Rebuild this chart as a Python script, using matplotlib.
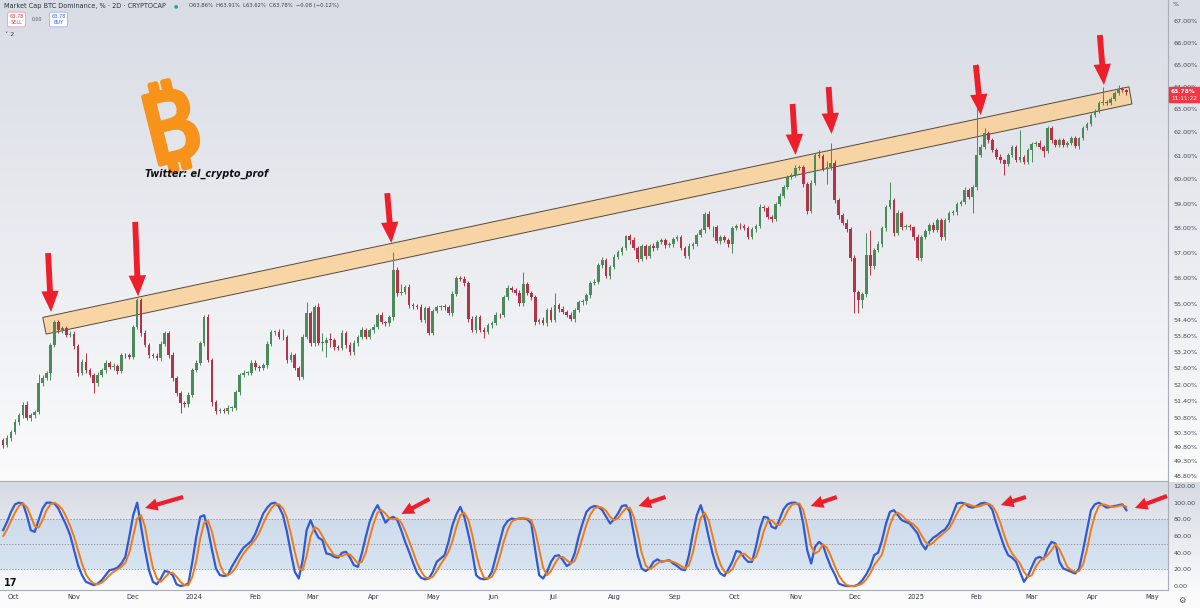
import numpy as np
import matplotlib
matplotlib.use("Agg")
import matplotlib.pyplot as plt
import matplotlib.dates as mdates
import matplotlib.patheffects as pe
from matplotlib.patches import Polygon, FancyArrowPatch, Rectangle
from matplotlib.ticker import NullLocator

# ---------------- data ----------------
start_date = "2023-09-26"
step_days = 2
first_open = 50.04

closes = [
    49.86, 50.11, 50.32, 50.67, 50.91, 51.27, 50.81, 50.91, 51.02, 52.06,
    52.24, 52.43, 53.46, 54.32, 54.02, 54.10, 53.84, 53.87, 53.43, 52.43,
    52.83, 52.54, 52.35, 52.06, 52.35, 52.54, 52.80, 52.65, 52.69, 52.50,
    53.09, 53.08, 53.02, 54.14, 55.16, 53.91, 53.46, 53.09, 53.05, 52.98,
    53.50, 53.91, 53.09, 52.24, 51.70, 51.34, 51.30, 51.63, 52.54, 52.80,
    53.54, 54.51, 52.91, 51.37, 51.06, 51.09, 51.05, 51.16, 51.17, 51.73,
    52.35, 52.43, 52.44, 52.80, 52.65, 52.61, 52.72, 53.50, 53.95, 53.96,
    53.76, 53.75, 52.91, 53.09, 52.61, 52.28, 53.76, 54.66, 53.54, 54.89,
    53.54, 53.55, 53.65, 53.64, 53.39, 53.35, 53.91, 53.46, 53.20, 53.54,
    53.76, 54.02, 53.76, 54.02, 54.14, 54.59, 54.32, 54.29, 54.51, 56.33,
    55.43, 55.47, 55.67, 54.97, 54.93, 54.89, 54.40, 54.85, 53.91, 54.74,
    54.89, 54.92, 54.88, 54.66, 55.39, 56.02, 55.98, 55.82, 54.44, 54.02,
    54.51, 54.03, 53.95, 54.21, 54.29, 54.59, 54.58, 55.28, 55.63, 55.55,
    55.43, 55.04, 55.78, 55.43, 55.28, 54.32, 54.40, 54.29, 54.78, 54.40,
    54.97, 54.82, 54.70, 54.59, 54.44, 54.78, 55.08, 55.12, 55.35, 55.82,
    55.86, 56.52, 56.72, 56.09, 56.45, 56.84, 57.04, 57.20, 57.68, 57.52,
    57.20, 56.76, 57.28, 56.88, 57.28, 57.20, 57.44, 57.52, 57.32, 57.36,
    57.56, 57.64, 57.20, 56.88, 57.28, 57.36, 57.72, 57.92, 58.57, 58.04,
    58.03, 57.48, 57.64, 57.52, 57.36, 58.00, 58.08, 58.07, 58.00, 57.64,
    57.96, 58.08, 58.85, 58.81, 58.44, 58.36, 58.98, 59.31, 59.68, 60.10,
    60.18, 60.48, 60.52, 59.81, 58.69, 59.85, 61.03, 60.99, 60.43, 60.52,
    60.69, 59.14, 58.53, 58.20, 57.96, 56.80, 55.47, 55.16, 55.39, 56.92,
    56.48, 57.12, 57.36, 58.00, 58.85, 59.14, 57.80, 58.61, 58.04, 58.07,
    58.03, 57.64, 56.80, 57.64, 57.88, 58.12, 57.92, 58.32, 57.64, 58.32,
    58.61, 58.65, 58.98, 59.06, 59.56, 59.27, 59.68, 61.03, 61.37, 61.96,
    61.66, 61.24, 60.94, 60.81, 60.64, 61.03, 61.37, 60.82, 60.94, 60.73,
    61.24, 61.49, 61.54, 61.37, 61.20, 62.19, 61.66, 61.45, 61.67, 61.45,
    61.53, 61.75, 61.41, 61.74, 62.19, 62.36, 62.75, 62.93, 63.28, 63.33,
    63.29, 63.46, 63.72, 63.90, 63.86, 63.78,
]

upper_wick = [
    .08, .10, .07, .12, .09, .10, .15, .08, .06, .35,
    .10, .08, .07, .08, .10, .06, .09, .12, .10, .08,
    .10, .33, .07, .09, .12, .06, .10, .08, .11, .07,
    .09, .06, .10, .08, .07, .09, .12, .08, .06, .10,
    .11, .09, .08, .10, .07, .06, .09, .12, .08, .10,
    .09, .07, .12, .08, .10, .06, .09, .11, .07, .10,
    .08, .12, .06, .09, .10, .07, .08, .11, .09, .06,
    .10, .30, .08, .10, .07, .09, .12, .42, .10, .08,
    .15, .35, .10, .25, .08, .09, .11, .07, .10, .12,
    .08, .10, .07, .09, .11, .08, .10, .06, .09, .70,
    .12, .30, .08, .10, .07, .09, .11, .08, .10, .07,
    .09, .06, .10, .08, .12, .09, .07, .10, .08, .11,
    .09, .07, .10, .08, .06, .11, .09, .08, .10, .07,
    .09, .12, .47, .08, .10, .07, .09, .11, .08, .10,
    .45, .08, .10, .07, .12, .09, .08, .10, .07, .09,
    .10, .08, .12, .07, .09, .11, .08, .10, .06, .09,
    .12, .08, .10, .07, .09, .11, .08, .10, .07, .09,
    .08, .10, .07, .09, .11, .08, .10, .07, .09, .12,
    .05, .10, .08, .09, .07, .10, .08, .12, .09, .07,
    .10, .08, .12, .09, .07, .10, .08, .11, .09, .10,
    .08, .12, .09, .10, .07, .11, .08, .20, .09, .25,
    .85, .12, .10, .08, .15, .10, .12, .09, .10, .90,
    1.00, .10, .12, .10, .08, .75, .10, .12, .09, .08,
    .10, .07, .12, .09, .08, .10, .11, .09, .08, .10,
    .09, .07, .10, .08, .12, .09, .10, 4.00, .12, .25,
    .10, .08, .09, .12, .07, .10, .08, .09, 1.15, .10,
    .08, .09, .10, .12, .08, .10, .09, .07, .10, .08,
    .09, .08, .10, .07, .09, .10, .08, .09, .10, .65,
    .08, .10, .09, .18, .07, .05,
]

lower_wick = [
    .10, .08, .12, .07, .09, .10, .08, .12, .09, .07,
    .10, .08, .25, .07, .09, .10, .08, .06, .12, .10,
    .08, .10, .07, .35, .09, .08, .12, .07, .10, .09,
    .07, .10, .08, .09, .06, .12, .08, .10, .07, .09,
    .10, .08, .12, .09, .10, .35, .08, .10, .07, .09,
    .08, .10, .09, .12, .10, .08, .07, .10, .09, .08,
    .10, .07, .09, .08, .12, .10, .07, .09, .08, .10,
    .08, .10, .12, .09, .07, .10, .08, .09, .12, .10,
    .09, .30, .55, .25, .10, .08, .07, .12, .09, .10,
    .10, .08, .09, .07, .10, .09, .08, .12, .10, .09,
    .10, .09, .08, .12, .10, .07, .09, .10, .08, .09,
    .08, .10, .09, .07, .10, .08, .09, .10, .12, .08,
    .10, .09, .22, .08, .10, .07, .09, .08, .10, .09,
    .08, .10, .09, .07, .10, .12, .08, .09, .10, .07,
    .09, .10, .08, .09, .07, .10, .08, .12, .09, .10,
    .08, .09, .10, .07, .12, .09, .08, .10, .09, .15,
    .09, .10, .08, .12, .07, .10, .09, .08, .10, .09,
    .10, .08, .09, .07, .10, .12, .08, .09, .10, .08,
    .40, .09, .10, .08, .12, .35, .09, .10, .08, .07,
    .09, .10, .08, .12, .09, .10, .07, .09, .10, .08,
    .10, .09, .08, .12, .10, .07, .09, .10, .08, .60,
    .12, .10, .15, .09, .12, .10, .80, .50, .30, .10,
    .35, .10, .09, .10, .12, .08, .10, .09, .12, .08,
    .09, .10, .08, .12, .09, .10, .08, .09, .10, .12,
    .08, .09, .10, .07, .09, .10, .65, .10, .08, .09,
    .10, .08, .09, .12, .45, .09, .10, .08, .09, .10,
    .08, .50, .09, .10, .25, .09, .10, .08, .09, .10,
    .08, .09, .10, .12, .08, .09, .10, .07, .09, .08,
    .10, .09, .08, .07, .09, .16,
]

stoch_k = [
    67, 77, 89, 98, 100, 99, 85, 67, 65, 79,
    93, 100, 100, 99, 93, 83, 73, 61, 43, 25,
    13, 5, 3, 1, 3, 7, 13, 19, 20, 22,
    27, 35, 59, 85, 100, 71, 43, 19, 5, 2,
    9, 18, 17, 13, 2, 0, 1, 3, 29, 59,
    83, 85, 67, 43, 21, 13, 12, 13, 23, 31,
    39, 46, 50, 54, 63, 75, 87, 94, 99, 100,
    95, 85, 65, 40, 17, 9, 31, 67, 79, 67,
    58, 55, 39, 38, 35, 34, 40, 41, 34, 25,
    23, 39, 59, 77, 89, 97, 87, 76, 81, 83,
    79, 67, 53, 41, 28, 16, 10, 8, 9, 17,
    29, 33, 37, 53, 73, 86, 95, 83, 63, 41,
    13, 9, 8, 9, 17, 35, 53, 71, 78, 81,
    80, 81, 81, 80, 75, 43, 13, 9, 17, 29,
    36, 37, 31, 24, 27, 39, 59, 75, 89, 94,
    96, 95, 91, 83, 75, 80, 87, 96, 97, 89,
    63, 37, 21, 18, 21, 29, 32, 29, 30, 31,
    27, 24, 20, 19, 37, 63, 85, 97, 81, 59,
    39, 23, 15, 12, 20, 29, 42, 41, 34, 29,
    29, 47, 69, 83, 82, 71, 69, 80, 92, 98,
    100, 100, 97, 75, 43, 27, 47, 53, 49, 35,
    23, 14, 3, 1, 0, 0, 0, 2, 7, 14,
    23, 37, 40, 55, 75, 89, 91, 85, 79, 77,
    75, 69, 63, 51, 44, 53, 58, 61, 65, 68,
    75, 87, 99, 100, 99, 95, 94, 96, 99, 100,
    98, 91, 75, 61, 47, 37, 34, 29, 17, 5,
    12, 23, 33, 35, 32, 45, 53, 51, 29, 21,
    19, 17, 15, 21, 43, 67, 91, 98, 100, 97,
    94, 95, 96, 97, 98, 91,
]

stoch_d = [
    60, 68, 78, 88, 96, 99, 95, 84, 72, 70,
    79, 91, 98, 100, 97, 92, 83, 72, 59, 43,
    27, 14, 7, 3, 2, 4, 8, 13, 17, 20,
    23, 28, 40, 60, 81, 85, 71, 44, 22, 9,
    5, 10, 15, 16, 11, 5, 1, 1, 11, 30,
    57, 76, 78, 65, 44, 26, 15, 13, 16, 22,
    31, 39, 45, 50, 56, 64, 75, 85, 93, 98,
    98, 93, 82, 63, 41, 22, 19, 36, 59, 71,
    68, 60, 51, 44, 37, 36, 36, 38, 38, 33,
    27, 29, 40, 58, 75, 88, 91, 87, 81, 80,
    81, 76, 66, 54, 41, 28, 18, 11, 9, 11,
    18, 26, 33, 41, 54, 71, 85, 88, 80, 62,
    39, 21, 10, 9, 11, 20, 35, 53, 67, 77,
    80, 81, 81, 81, 79, 66, 44, 22, 13, 18,
    27, 34, 35, 31, 27, 30, 42, 58, 74, 86,
    93, 95, 94, 90, 83, 79, 81, 88, 93, 94,
    83, 63, 40, 25, 20, 23, 27, 30, 30, 30,
    29, 27, 24, 21, 25, 40, 62, 82, 88, 79,
    60, 40, 26, 17, 16, 20, 30, 37, 39, 35,
    31, 35, 48, 66, 78, 79, 74, 73, 80, 90,
    97, 99, 99, 91, 72, 48, 39, 42, 50, 46,
    36, 24, 13, 6, 1, 0, 0, 1, 3, 8,
    15, 25, 31, 38, 56, 73, 85, 88, 85, 80,
    77, 74, 69, 61, 53, 49, 52, 57, 61, 65,
    69, 77, 87, 95, 99, 98, 96, 95, 96, 98,
    99, 96, 88, 76, 61, 48, 39, 33, 27, 17,
    11, 13, 23, 30, 33, 37, 43, 50, 44, 34,
    23, 19, 17, 18, 26, 44, 67, 85, 96, 98,
    97, 95, 95, 96, 97, 95,
]

# channel band corners: days after 2023-10-01, values (%)
band_ref_date = "2023-10-01"
band_days = [15.1, 566.3, 567.8, 16.8]
band_values = [54.50, 64.00, 63.24, 53.87]

# red arrows in price panel: (tail day, tail value) -> (tip day, tip value)
main_arrow_tail_days = [17.8, 62.0, 189.9, 395.6, 413.9, 488.6, 551.5]
main_arrow_tail_vals = [57.00, 58.25, 59.43, 63.24, 63.99, 64.98, 66.35]
main_arrow_tip_days = [19.3, 63.5, 192.0, 397.1, 415.4, 491.1, 553.6]
main_arrow_tip_vals = [54.71, 55.31, 57.40, 61.03, 61.93, 62.75, 64.08]

# red arrows in oscillator panel
osc_arrow_tail_days = [86.3, 211.3, 331.1, 418.0, 514.0, 585.6]
osc_arrow_tail_vals = [106.8, 104.4, 106.8, 106.8, 106.8, 108.0]
osc_arrow_tip_days = [67.0, 197.1, 317.4, 404.8, 501.3, 569.3]
osc_arrow_tip_vals = [93.6, 86.4, 96.0, 96.0, 97.2, 93.6]

price_ticks = [67, 66, 65, 64, 63, 62, 61, 60, 59, 58, 57, 56, 55,
               54.4, 53.8, 53.2, 52.6, 52.0, 51.4, 50.8, 50.3, 49.8, 49.3, 48.8]
osc_ticks = [120, 100, 80, 60, 40, 20, 0]
month_tick_dates = ["2023-10-01", "2023-11-01", "2023-12-01", "2024-01-01", "2024-02-01",
                    "2024-03-01", "2024-04-01", "2024-05-01", "2024-06-01", "2024-07-01",
                    "2024-08-01", "2024-09-01", "2024-10-01", "2024-11-01", "2024-12-01",
                    "2025-01-01", "2025-02-01", "2025-03-01", "2025-04-01", "2025-05-01"]
month_tick_labels = ["Oct", "Nov", "Dec", "2024", "Feb", "Mar", "Apr", "May", "Jun", "Jul",
                     "Aug", "Sep", "Oct", "Nov", "Dec", "2025", "Feb", "Mar", "Apr", "May"]

# ---------------- style ----------------
GREEN = "#4a8a5b"
RED = "#b43349"
ARROW_RED = "#ee1f2b"
BLUE = "#2f5ad6"
ORANGE = "#f07b16"
AXIS_TXT = "#444a52"

W, H = 1200, 608
fig = plt.figure(figsize=(12, 6.08), dpi=100)
fig.patch.set_facecolor("white")

# background gradient
bg = fig.add_axes([0, 0, 1, 1], zorder=-10)
bg.axis("off")
grad = np.zeros((H, 2, 3))
def fill(r0, r1, c0, c1):
    t = np.linspace(0, 1, r1 - r0)[:, None]
    col = np.array(c0)[None, :] * (1 - t) + np.array(c1)[None, :] * t
    grad[r0:r1, :, :] = (col / 255.0)[:, None, :]
fill(0, 482, (216, 220, 228), (251, 251, 252))
fill(482, 590, (214, 218, 226), (249, 250, 251))
fill(590, 608, (250, 250, 251), (250, 250, 251))
bg.imshow(grad, aspect="auto", extent=[0, 1, 0, 1], origin="upper")

right_px = 1168
main_bottom_px = 481
osc_top_px = 482
osc_bottom_px = 590
ax = fig.add_axes([0, 1 - main_bottom_px / H, right_px / W, main_bottom_px / H])
ax2 = fig.add_axes([0, 1 - osc_bottom_px / H, right_px / W, (osc_bottom_px - osc_top_px) / H])
for a in (ax, ax2):
    a.set_facecolor("none")

# x positions
d0 = mdates.datestr2num(start_date)
n = min(len(closes), len(upper_wick), len(lower_wick), len(stoch_k), len(stoch_d))
x = d0 + step_days * np.arange(n)
c = np.array(closes[:n])
o = np.concatenate([[first_open], c[:-1]])
hi = np.maximum(o, c) + np.array(upper_wick[:n])
lo = np.minimum(o, c) - np.array(lower_wick[:n])
cols = np.where(c >= o, GREEN, RED)

ref = mdates.datestr2num(band_ref_date)
xmin = ref - 6.6
xmax = ref + 586.1

# ---- price panel ----
ax.set_yscale("log")
ax.set_ylim(48.63, 67.99)
ax.set_xlim(xmin, xmax)

band = Polygon(np.column_stack([ref + np.array(band_days), band_values]), closed=True,
               facecolor="#fbd198", alpha=0.85, edgecolor="#3a2f25", lw=0.7, zorder=2)
ax.add_patch(band)

ax.vlines(x, lo, hi, colors=cols, lw=0.7, zorder=3)
body_lo = np.minimum(o, c)
body_h = np.maximum(np.abs(c - o), 0.03)
ax.bar(x, body_h, bottom=body_lo, width=1.35, color=cols, lw=0, zorder=4)

for td, tv, pd_, pv in zip(main_arrow_tail_days, main_arrow_tail_vals,
                           main_arrow_tip_days, main_arrow_tip_vals):
    arr = FancyArrowPatch((ref + td, tv), (ref + pd_, pv),
                          arrowstyle="simple,head_width=1.25,head_length=1.5,tail_width=0.42",
                          mutation_scale=10, color=ARROW_RED, lw=0, zorder=8,
                          shrinkA=0, shrinkB=0)
    ax.add_patch(arr)

ax.yaxis.tick_right()
ax.yaxis.set_minor_locator(NullLocator())
ax.set_yticks(price_ticks)
ax.set_yticklabels([f"{t:.2f}%" for t in price_ticks])
ax.tick_params(axis="y", length=0, pad=4, labelsize=4.6, labelcolor=AXIS_TXT)
ax.set_xticks([])
for s in ("top", "left"):
    ax.spines[s].set_visible(False)
ax.spines["right"].set_color("#a9aeb6")
ax.spines["right"].set_linewidth(0.8)
ax.spines["bottom"].set_color("#a9aeb6")
ax.spines["bottom"].set_linewidth(0.8)

# ---- oscillator panel ----
ax2.set_xlim(xmin, xmax)
ax2.set_ylim(-4.8, 124.8)
ax2.axhspan(20, 80, color="#b7d0ea", alpha=0.45, lw=0, zorder=1)
for lvl in (80, 50, 20):
    ax2.axhline(lvl, color="#9a9fa7", lw=0.7, ls=(0, (1.5, 1.5)), zorder=2)
ax2.plot(x, stoch_k[:n], color=BLUE, lw=1.6, zorder=4, solid_joinstyle="round")
ax2.plot(x, stoch_d[:n], color=ORANGE, lw=1.4, zorder=5, solid_joinstyle="round")
for td, tv, pd_, pv in zip(osc_arrow_tail_days, osc_arrow_tail_vals,
                           osc_arrow_tip_days, osc_arrow_tip_vals):
    arr = FancyArrowPatch((ref + td, tv), (ref + pd_, pv),
                          arrowstyle="simple,head_width=0.9,head_length=0.9,tail_width=0.3",
                          mutation_scale=10, color=ARROW_RED, lw=0, zorder=8,
                          shrinkA=0, shrinkB=0, clip_on=False)
    ax2.add_patch(arr)

ax2.yaxis.tick_right()
ax2.set_yticks(osc_ticks)
ax2.set_yticklabels([f"{t:.2f}" for t in osc_ticks])
ax2.tick_params(axis="y", length=0, pad=4, labelsize=4.6, labelcolor=AXIS_TXT)
ax2.set_xticks([mdates.datestr2num(d) for d in month_tick_dates])
ax2.set_xticklabels(month_tick_labels)
ax2.tick_params(axis="x", length=0, pad=3, labelsize=4.8, labelcolor="#333840")
for s in ("top", "left"):
    ax2.spines[s].set_visible(False)
for s in ("right", "bottom"):
    ax2.spines[s].set_color("#a9aeb6")
    ax2.spines[s].set_linewidth(0.8)

# ---- header / annotations ----
def fx(px):
    return px / W
def fy(py):
    return 1 - py / H

fig.text(fx(4), fy(6), "Market Cap BTC Dominance, % · 2D · CRYPTOCAP", fontsize=4.7,
         color="#2e3238", va="center", ha="left")
fig.text(fx(176), fy(6), "●", fontsize=3.6, color="#26a69a", va="center", ha="center")
o_last, h_last, l_last, c_last = o[-1], hi[-1], lo[-1], c[-1]
chg = c_last - o_last
fig.text(fx(189), fy(6),
         f"O{o_last:.2f}%  H{h_last:.2f}%  L{l_last:.2f}%  C{c_last:.2f}%  "
         f"\u2212{abs(chg):.2f} (\u22120.12%)",
         fontsize=3.8, color="#3a3f46", va="center", ha="left")
fig.text(fx(16.5), fy(19.5), f"{c_last:.2f}\nSELL", fontsize=3.6, color="#e0344a",
         ha="center", va="center", linespacing=1.3,
         bbox=dict(boxstyle="round,pad=0.35", fc="white", ec="#eba3ad", lw=0.6))
fig.text(fx(37.5), fy(19.5), "0.00", fontsize=3.4, color="#555", ha="center", va="center")
fig.text(fx(58.5), fy(19.5), f"{c_last:.2f}\nBUY", fontsize=3.6, color="#2962ff",
         ha="center", va="center", linespacing=1.3,
         bbox=dict(boxstyle="round,pad=0.35", fc="white", ec="#9bb4f5", lw=0.6))
fig.text(fx(5), fy(34), "\u02c5 2", fontsize=4.6, color="#333", va="center", ha="left")

# Bitcoin logo + credit
fig.text(fx(172), fy(135), "\u20bf", fontsize=70, color="#f7931a", fontweight="bold",
         family=["Noto Sans", "DejaVu Sans"], ha="center", va="center", rotation=14,
         path_effects=[pe.withStroke(linewidth=3.5, foreground="#f7931a")])
fig.text(fx(145), fy(174), "Twitter: el_crypto_prof", fontsize=7, fontweight="bold",
         style="italic", color="#111", ha="left", va="center")

# right axis extras
fig.text(fx(1173), fy(5), "%", fontsize=4.5, color=AXIS_TXT, ha="left", va="center")
ylast = ax.transData.transform((x[-1], c_last))[1] - 3
tag_h = 15
fig.patches.append(Rectangle((fx(1169), (ylast - tag_h / 2) / H), 31 / W, tag_h / H,
                             transform=fig.transFigure, color="#f23645", zorder=20))
fig.text(fx(1171), (ylast + 3) / H, f"{c_last:.2f}%", fontsize=4.2, color="white",
         fontweight="bold", ha="left", va="center", zorder=21)
fig.text(fx(1171), (ylast - 3.8) / H, "11:11:22", fontsize=4.2, color="white",
         ha="left", va="center", zorder=21)
fig.text(fx(1182), fy(600), "\u2699", fontsize=6, color="#555", ha="center", va="center")
fig.text(fx(11), fy(583), "17", fontsize=7, fontweight="heavy", color="#111",
         ha="center", va="center")

fig.savefig("out.png", dpi=100)
